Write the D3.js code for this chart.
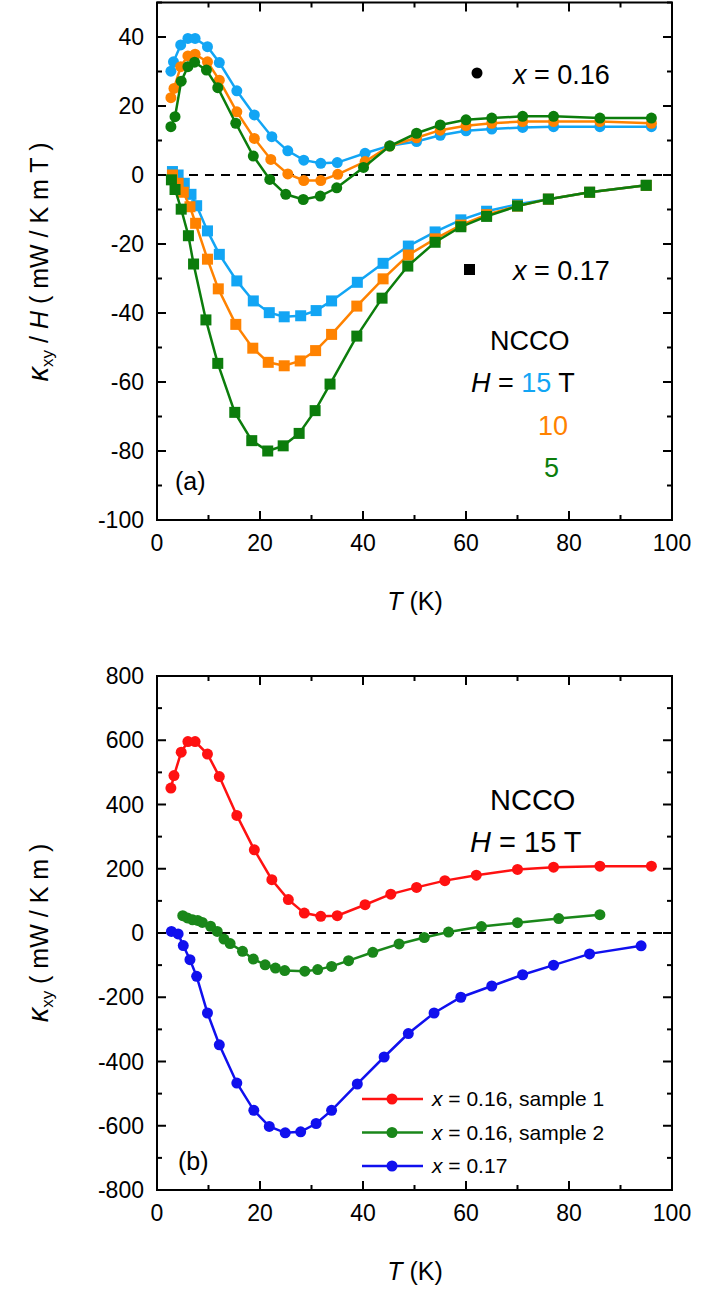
<!DOCTYPE html><html><head><meta charset="utf-8"><script src="https://cdn.jsdelivr.net/npm/d3@7"></script>
<style>body{margin:0;background:#fff}text{font-family:"Liberation Sans",Arial,sans-serif}</style></head><body><svg id="c" width="706" height="1294"></svg>
<script>
const a16_15=[[2.7,30.1],[3.2,32.8],[4.6,37.7],[6.0,39.6],[7.4,39.6],[9.8,37.2],[12.1,32.6],[15.5,24.4],[18.9,17.4],[22.3,11.1],[25.4,7.0],[28.5,4.3],[31.8,3.4],[35.0,3.6],[40.4,6.3],[45.2,8.5],[50.4,9.7],[55,11.5],[60,12.8],[65,13.3],[71,13.8],[77,14],[86,14],[96,14]];
const a16_10=[[2.7,22.4],[3.3,25.1],[4.6,31.4],[6.0,34.5],[7.4,35.0],[9.8,32.8],[12.1,27.5],[15.5,18.3],[18.9,10.6],[22.1,4.5],[25.4,0.3],[28.5,-1.6],[31.8,-1.6],[35.1,0.2],[40.4,3.9],[45.2,8.4],[50.4,10.8],[55,13],[60,14.3],[65,15],[71,15.5],[77,15.5],[86,15.5],[96,15]];
const a16_5=[[2.7,14.0],[3.5,16.9],[4.7,27.2],[6.0,31.4],[7.3,32.7],[9.6,30.4],[11.8,25.3],[15.3,15.0],[18.7,5.5],[21.9,-1.3],[25.0,-5.6],[28.4,-7.1],[31.7,-6.1],[34.9,-3.7],[40.1,2.2],[45.2,8.4],[50.4,12.1],[55,14.5],[60,16],[65,16.5],[71,17],[77,17],[86,16.5],[96,16.5]];
const a17_15=[[3.0,1.0],[4.1,0],[5.3,-2.4],[6.6,-5.6],[7.7,-8.9],[9.8,-16.2],[12.1,-23.0],[15.5,-30.7],[18.7,-36.5],[21.8,-39.9],[24.7,-41.1],[27.9,-40.8],[30.9,-39.3],[33.9,-36.5],[38.9,-31.1],[43.9,-25.6],[48.8,-20.6],[54,-16.5],[59,-13],[64,-10.5],[70,-8.5],[76,-7],[84,-5],[95,-3]];
const a17_10=[[3.0,0],[4.1,-2.4],[5.1,-5.0],[6.4,-9.2],[7.5,-14.0],[9.8,-24.4],[11.9,-33.0],[15.3,-43.3],[18.6,-50.2],[21.6,-54.3],[24.7,-55.3],[27.8,-53.9],[30.8,-50.9],[33.9,-46.2],[38.8,-38.0],[43.9,-30.1],[48.8,-23.2],[54,-18.5],[59,-14.5],[64,-11.5],[70,-9],[76,-7],[84,-5],[95,-3]];
const a17_5=[[2.8,-1.4],[3.5,-4.2],[4.7,-9.9],[6.1,-17.6],[7.1,-25.8],[9.5,-42.0],[11.8,-54.6],[15.1,-68.8],[18.4,-77.0],[21.5,-80.0],[24.5,-78.5],[27.6,-74.9],[30.7,-68.3],[33.6,-60.6],[38.8,-46.7],[43.7,-35.7],[48.7,-26.4],[54,-19.5],[59,-15],[64,-12],[70,-9],[76,-7],[84,-5],[95,-3]];
const b16s1=[[2.7,451],[3.3,490],[4.7,563],[6.0,596],[7.4,596],[9.8,557],[12.1,487],[15.5,366],[18.9,259],[22.3,166],[25.5,104],[28.6,62],[31.8,52],[35.0,54],[40.4,88],[45.4,121],[50.4,142],[55.9,163],[62,180],[70,198],[77,205],[86,208],[96,208]];
const b16s2=[[5.0,54],[5.9,47],[6.9,41],[7.9,39],[8.8,33],[10.4,21],[11.7,5],[13.0,-19],[14.2,-33],[16.6,-57],[18.7,-81],[21.0,-99],[23.0,-109],[24.8,-117],[28.7,-119],[31.2,-114],[33.9,-104],[37.2,-86],[41.9,-60],[47.0,-34],[51.9,-14],[56.6,3],[63,20],[70,32],[78,45],[86,57]];
const b17=[[2.8,5],[4.1,-3],[5.1,-39],[6.4,-83],[7.7,-135],[9.8,-249],[12.1,-348],[15.5,-467],[18.8,-552],[21.8,-602],[24.9,-622],[27.9,-619],[30.9,-593],[33.9,-552],[38.9,-470],[44.1,-386],[48.8,-313],[53.8,-249],[59,-200],[65,-165],[71,-130],[77,-100],[84,-65],[94,-40]];
const xTicks=[0,20,40,60,80,100];
const aTicks=[-100,-80,-60,-40,-20,0,20,40];
const bTicks=[-800,-600,-400,-200,0,200,400,600,800];
const C={b:"#12a5f4",o:"#ff8200",g:"#0c7d0c",r:"#f11",gb:"#1a871a",bl:"#1010ee"};
const svg=d3.select("#c");
const X=d3.scaleLinear().domain([0,100]).range([157,672]);
function frame(y,ticks,minorStep,fmt){
  const g=svg.append("g");
  const [y0,y1]=y.range();
  g.append("rect").attr("x",157).attr("y",y1).attr("width",515).attr("height",y0-y1).attr("fill","none").attr("stroke","#000").attr("stroke-width",2);
  const ax=d3.axisBottom(X).tickValues(d3.range(0,101,10)).tickSize(0).tickFormat("");
  // ticks
  d3.range(0,101,10).forEach(v=>{const L=v%20==0?9:5;
    g.append("line").attr("x1",X(v)).attr("x2",X(v)).attr("y1",y0).attr("y2",y0-L).attr("stroke","#000").attr("stroke-width",2);
    g.append("line").attr("x1",X(v)).attr("x2",X(v)).attr("y1",y1).attr("y2",y1+L).attr("stroke","#000").attr("stroke-width",2);});
  const d=y.domain();
  d3.range(d[0],d[1]+0.01,minorStep).forEach((v,i)=>{const L=ticks.includes(v)?9:5;
    g.append("line").attr("x1",157).attr("x2",157+L).attr("y1",y(v)).attr("y2",y(v)).attr("stroke","#000").attr("stroke-width",2);
    g.append("line").attr("x1",672).attr("x2",672-L).attr("y1",y(v)).attr("y2",y(v)).attr("stroke","#000").attr("stroke-width",2);});
  xTicks.forEach(v=>g.append("text").attr("x",X(v)).attr("y",y0+31).attr("text-anchor","middle").attr("font-size",23).text(v));
  ticks.forEach(v=>g.append("text").attr("x",144).attr("y",y(v)+8).attr("text-anchor","end").attr("font-size",23).text(v));
  g.append("line").attr("x1",157).attr("x2",672).attr("y1",y(0)).attr("y2",y(0)).attr("stroke","#000").attr("stroke-width",2).attr("stroke-dasharray","9,7");
  const t=g.append("text").attr("x",415).attr("y",y0+90).attr("text-anchor","middle").attr("font-size",25);
  t.append("tspan").attr("font-style","italic").text("T");t.append("tspan").text(" (K)");
}
function series(y,data,col,shape){
  const line=d3.line().x(d=>X(d[0])).y(d=>y(d[1]));
  svg.append("path").attr("d",line(data)).attr("fill","none").attr("stroke",col).attr("stroke-width",2.5);
  if(shape=="c") svg.selectAll(null).data(data).enter().append("circle").attr("cx",d=>X(d[0])).attr("cy",d=>y(d[1])).attr("r",5.5).attr("fill",col);
  else svg.selectAll(null).data(data).enter().append("rect").attr("x",d=>X(d[0])-5.5).attr("y",d=>y(d[1])-5.5).attr("width",11).attr("height",11).attr("fill",col);
}
const Ya=d3.scaleLinear().domain([-100,50]).range([520,2.5]);
frame(Ya,aTicks,10);
series(Ya,a16_15,C.b,"c");series(Ya,a16_10,C.o,"c");series(Ya,a16_5,C.g,"c");
series(Ya,a17_15,C.b,"s");series(Ya,a17_10,C.o,"s");series(Ya,a17_5,C.g,"s");
const Yb=d3.scaleLinear().domain([-800,800]).range([1190,676]);
frame(Yb,bTicks,100);
series(Yb,b16s1,C.r,"c");series(Yb,b16s2,C.gb,"c");series(Yb,b17,C.bl,"c");
function T(x,y,s,parts,anchor){const t=svg.append("text").attr("x",x).attr("y",y).attr("font-size",s).attr("text-anchor",anchor||"start");
  parts.forEach(p=>{const ts=t.append("tspan").text(p[0]);if(p[1])ts.attr("font-style","italic");if(p[2])ts.attr("fill",p[2]);if(p[3])ts.attr("font-size",p[3]).attr("dy",p[4]||0);});return t;}
svg.append("circle").attr("cx",477).attr("cy",73).attr("r",5.5);
T(513,84,27,[["x",1],[" = 0.16"]]);
svg.append("rect").attr("x",464).attr("y",264).attr("width",11).attr("height",11);
T(513,280,27,[["x",1],[" = 0.17"]]);
T(490,350,27,[["NCCO"]]);
T(471,392,27,[["H",1],[" = "],["15",0,C.b],[" T"]]);
T(538,435,27,[["10",0,C.o]]);
T(544,477,27,[["5",0,C.g]]);
T(175,490,25,[["(a)"]]);
T(490,810,29,[["NCCO"]]);
T(470,852,29,[["H",1],[" = 15 T"]]);
T(178,1170,25,[["(b)"]]);
[[C.r,"0.16, sample 1"],[C.gb,"0.16, sample 2"],[C.bl,"0.17"]].forEach((l,i)=>{const y=1099+i*33.5;
  svg.append("line").attr("x1",362).attr("x2",423).attr("y1",y).attr("y2",y).attr("stroke",l[0]).attr("stroke-width",2.5);
  svg.append("circle").attr("cx",392).attr("cy",y).attr("r",5.5).attr("fill",l[0]);
  T(432,y+7,21,[["x",1],[" = "+l[1]]]);});
const ya=svg.append("text").attr("transform","translate(48,262) rotate(-90)").attr("text-anchor","middle").attr("font-size",25);
ya.append("tspan").attr("font-style","italic").attr("font-size",29).text("κ");ya.append("tspan").attr("font-size",17).attr("dy",5).text("xy");
ya.append("tspan").attr("dy",-5).text(" / ");ya.append("tspan").attr("font-style","italic").text("H");ya.append("tspan").text(" ( mW / K m T )");
const yb=svg.append("text").attr("transform","translate(48,933) rotate(-90)").attr("text-anchor","middle").attr("font-size",25);
yb.append("tspan").attr("font-style","italic").attr("font-size",29).text("κ");yb.append("tspan").attr("font-size",17).attr("dy",5).text("xy");
yb.append("tspan").attr("dy",-5).text(" ( mW / K m )");
</script></body></html>
